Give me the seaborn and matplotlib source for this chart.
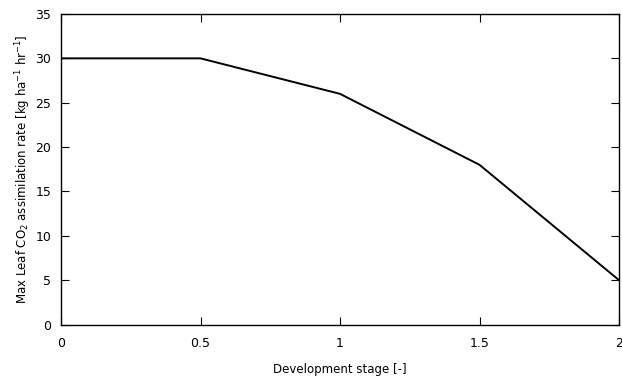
import matplotlib
matplotlib.use("Agg")
import matplotlib.pyplot as plt
import seaborn as sns
import pandas as pd

dvs = [0.0, 0.5, 1.0, 1.5, 2.0]
amax = [30.0, 30.0, 26.0, 18.0, 5.0]
xticks = [0, 0.5, 1, 1.5, 2]
xticklabels = ["0", "0.5", "1", "1.5", "2"]
yticks = [0, 5, 10, 15, 20, 25, 30, 35]

sns.set_theme(style="white")
plt.rcParams['font.family'] = ['DejaVu Sans']
plt.rcParams['text.color'] = 'black'
plt.rcParams['axes.labelcolor'] = 'black'
plt.rcParams['xtick.color'] = 'black'
plt.rcParams['ytick.color'] = 'black'

fig = plt.figure(figsize=(6.22, 3.83), dpi=100)
ax = fig.add_axes([61/622, 1-324.5/383, (619-61)/622, (324.5-14)/383])

df = pd.DataFrame({"dvs": dvs, "amax": amax})
sns.lineplot(data=df, x="dvs", y="amax", ax=ax, color="black", linewidth=1.4)

ax.set_xlim(0, 2)
ax.set_ylim(0, 35)
ax.set_xticks(xticks)
ax.set_xticklabels(xticklabels)
ax.set_yticks(yticks)
ax.tick_params(direction="in", length=6, width=0.8, colors="black",
               top=True, right=True, bottom=True, left=True,
               labelsize=9, pad=7)
ax.tick_params(axis="x", pad=9)
for s in ax.spines.values():
    s.set_color("black")
    s.set_linewidth(1.0)
ax.set_xlabel("Development stage [-]", fontsize=8.5, labelpad=9)
ax.set_ylabel(r"Max Leaf CO$_2$ assimilation rate [kg ha$^{-1}$ hr$^{-1}$]", fontsize=8.5, labelpad=2)

fig.savefig("out.png", dpi=100, facecolor="white")
